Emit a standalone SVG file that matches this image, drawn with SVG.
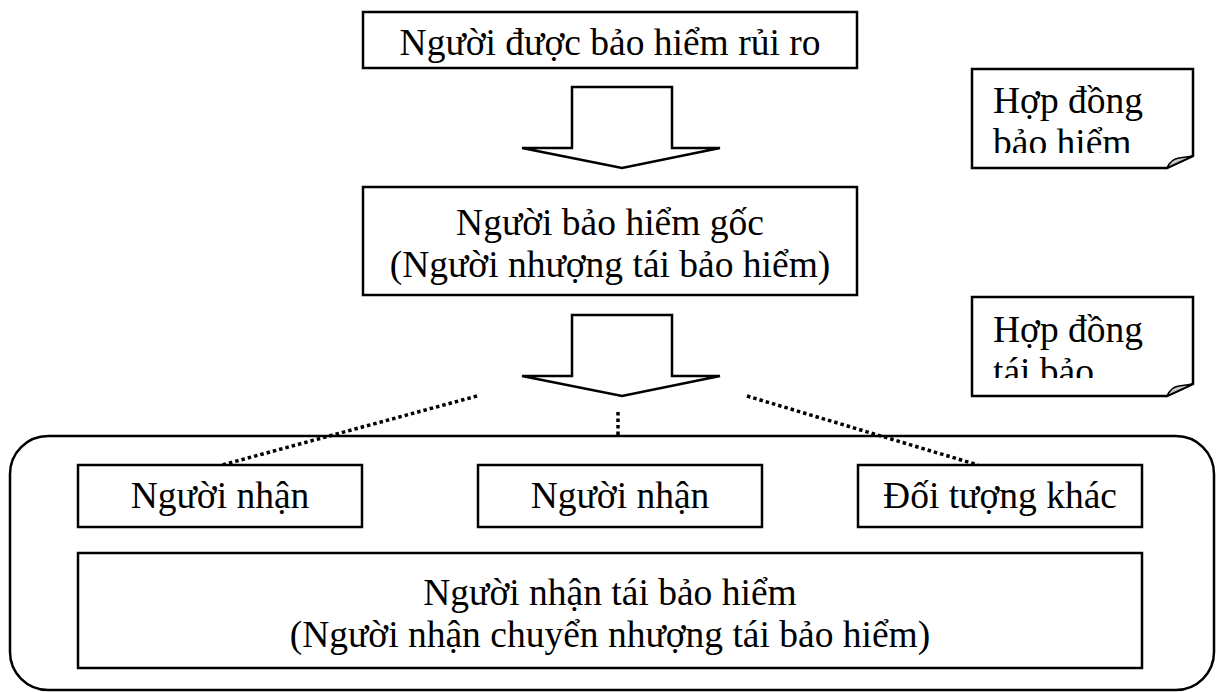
<svg xmlns="http://www.w3.org/2000/svg" width="1217" height="692" viewBox="0 0 1217 692">
<style>
.box{fill:#fff;stroke:#000;stroke-width:2.5}
.t{font-family:"Liberation Serif","Times New Roman",serif;font-size:37.5px;fill:#000}
.c{text-anchor:middle}
.dot{fill:none;stroke:#000;stroke-width:3.5;stroke-dasharray:3.5 3}
.arrow{fill:#fff;stroke:#000;stroke-width:2.5;stroke-linejoin:miter}
.fold{fill:#c8c8c8;stroke:#000;stroke-width:1.5}
</style>
<defs>
<clipPath id="clip1"><rect x="972" y="69" width="221" height="84"/></clipPath>
<clipPath id="clip2"><rect x="972" y="297" width="221" height="81"/></clipPath>
</defs>
<rect width="1217" height="692" fill="#fff"/>
<g id="container">
<rect x="10" y="436" width="1204" height="254" rx="38" ry="38" fill="none" stroke="#000" stroke-width="2.5"/>
</g>
<g id="connectors">
<polygon class="arrow" points="572,87 672,87 672,148 720,148 622,168 522,148 572,148"/>
<polygon class="arrow" points="572,315 672,315 672,376 720,376 622,396 522,376 572,376"/>
<line class="dot" x1="477" y1="396" x2="222" y2="465"/>
<line class="dot" x1="618" y1="412" x2="618" y2="438"/>
<line class="dot" x1="747" y1="396" x2="978" y2="465"/>
</g>
<g id="insured">
<rect class="box" x="363" y="12" width="494" height="56"/>
<text class="t c" x="610" y="55">Người được bảo hiểm rủi ro</text>
</g>
<g id="insurer">
<rect class="box" x="363" y="187" width="494" height="108"/>
<text class="t c" x="610" y="235">Người bảo hiểm gốc</text>
<text class="t c" x="610" y="277">(Người nhượng tái bảo hiểm)</text>
</g>
<g id="note1">
<path class="box" d="M972,69 H1193 V156 L1167,168 H972 Z"/>
<path class="fold" d="M1167,168 Q1171,159 1179,158 L1193,156 Z"/>
<g clip-path="url(#clip1)">
<text class="t" x="993" y="113">Hợp đồng</text>
<text class="t" x="993" y="155">bảo hiểm</text>
</g>
</g>
<g id="note2">
<path class="box" d="M972,297 H1193 V384 L1167,396 H972 Z"/>
<path class="fold" d="M1167,396 Q1171,387 1179,386 L1193,384 Z"/>
<g clip-path="url(#clip2)">
<text class="t" x="993" y="342">Hợp đồng</text>
<text class="t" x="993" y="384">tái bảo</text>
</g>
</g>
<g id="receiver1">
<rect class="box" x="78" y="465" width="284" height="62"/>
<text class="t c" x="220" y="508">Người nhận</text>
</g>
<g id="receiver2">
<rect class="box" x="478" y="465" width="284" height="62"/>
<text class="t c" x="620" y="508">Người nhận</text>
</g>
<g id="other">
<rect class="box" x="858" y="465" width="284" height="62"/>
<text class="t c" x="1000" y="508">Đối tượng khác</text>
</g>
<g id="reinsurer">
<rect class="box" x="78" y="553" width="1064" height="115"/>
<text class="t c" x="610" y="605">Người nhận tái bảo hiểm</text>
<text class="t c" x="610" y="647">(Người nhận chuyển nhượng tái bảo hiểm)</text>
</g>
</svg>
